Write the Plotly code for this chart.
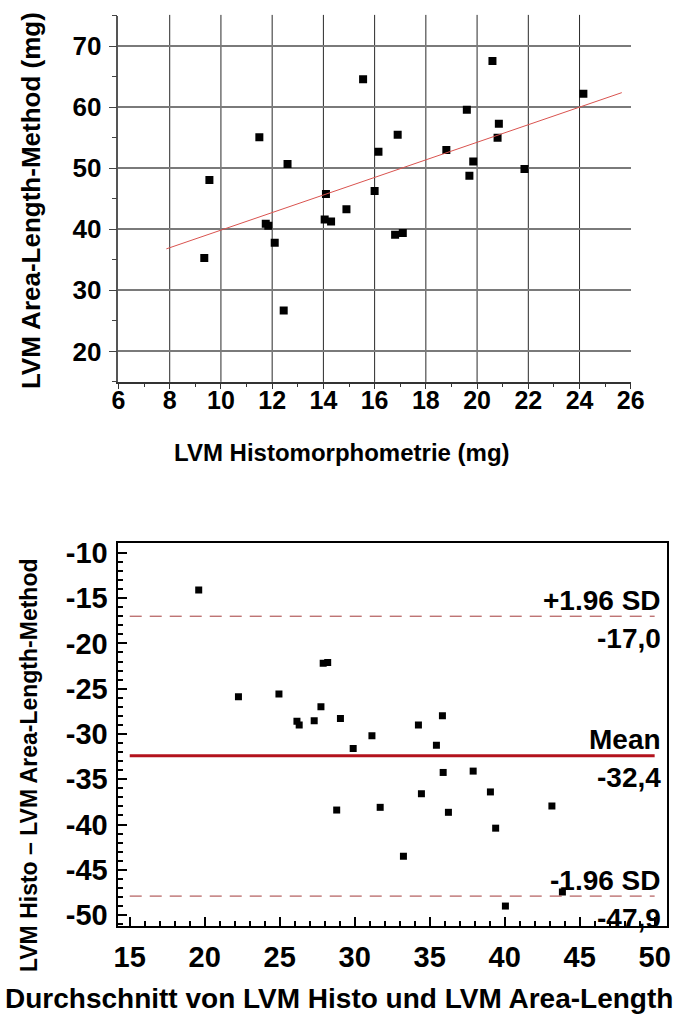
import plotly.graph_objects as go

# ---------------- data: top scatter (regression) ----------------
histo = [9.35, 9.55, 11.5, 11.75, 11.85, 12.1, 12.45, 12.6, 14.05, 14.1, 14.3, 14.9,
         15.55, 16.0, 16.15, 16.8, 16.9, 17.1, 18.8, 19.6, 19.7, 19.85, 20.6, 20.8,
         20.85, 21.85, 24.15]
area_length = [35.3, 48.1, 55.1, 40.9, 40.6, 37.8, 26.7, 50.7, 41.6, 45.8, 41.3, 43.3,
               64.6, 46.3, 52.7, 39.1, 55.5, 39.4, 53.0, 59.6, 48.8, 51.1, 67.6, 55.0,
               57.3, 49.9, 62.2]
fit_x = [7.87, 25.65]
fit_y = [36.8, 62.4]
top_xticks = [6, 8, 10, 12, 14, 16, 18, 20, 22, 24, 26]
top_xgrid = [8, 10, 12, 14, 16, 18, 20, 22, 24]
top_yticks = [20, 30, 40, 50, 60, 70]

# ---------------- data: bottom Bland-Altman ----------------
mean_vals = [19.6, 22.25, 24.95, 26.15, 26.3, 27.3, 27.75, 27.9, 28.2, 29.05, 28.8, 29.9,
             31.15, 31.7, 34.25, 35.85, 35.45, 35.9, 37.9, 34.45, 36.25, 39.05, 39.4,
             43.15, 33.25, 43.85, 40.05]
diff_vals = [-14.1, -25.9, -25.6, -28.6, -29.0, -28.55, -27.0, -22.2, -22.1, -28.3, -38.4,
             -31.6, -30.2, -38.1, -29.0, -28.0, -31.25, -34.25, -34.1, -36.6, -38.65,
             -36.4, -40.4, -37.95, -43.5, -47.45, -49.0]
bottom_xticks = [15, 20, 25, 30, 35, 40, 45, 50]
bottom_yticks = [-10, -15, -20, -25, -30, -35, -40, -45, -50]
bottom_yticktext = ["-10", "-15", "-20", "-25", "-30", "-35", "-40", "-45", "-50"]
limit_names = ["+1.96 SD", "Mean", "-1.96 SD"]
limit_vals = [-17.0, -32.4, -47.9]
line_span = [15, 50]

W, H = 685, 1021
FONT = "Liberation Sans, Arial, Helvetica, sans-serif"

fig = go.Figure()

# top scatter
fig.add_trace(go.Scatter(x=histo, y=area_length, mode="markers",
                         marker=dict(symbol="square", size=8, color="black"),
                         xaxis="x", yaxis="y", showlegend=False))
fig.add_trace(go.Scatter(x=fit_x, y=fit_y, mode="lines",
                         line=dict(color="#d9534f", width=1),
                         xaxis="x", yaxis="y", showlegend=False))

# bottom scatter
fig.add_trace(go.Scatter(x=mean_vals, y=diff_vals, mode="markers",
                         marker=dict(symbol="square", size=7, color="black"),
                         xaxis="x2", yaxis="y2", showlegend=False))

shapes = []
for gx in top_xgrid:
    shapes.append(dict(type="line", xref="x", yref="paper", x0=gx, x1=gx,
                       y0=1 - 380 / H, y1=1 - 9 / H, line=dict(color="#2a2a2a", width=1),
                       layer="below"))
for name, val in zip(limit_names, limit_vals):
    if name == "Mean":
        ln = dict(color="#b3121c", width=3)
    else:
        ln = dict(color="#a33a3a", width=1, dash="12px,8px")
    shapes.append(dict(type="line", xref="x2", yref="y2", x0=line_span[0], x1=line_span[1],
                       y0=val, y1=val, line=ln))

annotations = []
for name, val in zip(limit_names, limit_vals):
    annotations.append(dict(xref="x2", yref="y2", x=50, y=val, text="<b>%s</b>" % name,
                            xanchor="right", yanchor="middle", yshift=16, xshift=8,
                            showarrow=False,
                            font=dict(family=FONT, size=28, color="black")))
    annotations.append(dict(xref="x2", yref="y2", x=50, y=val,
                            text="<b>%s</b>" % ("%.1f" % val).replace(".", ","),
                            xanchor="right", yanchor="middle", yshift=-22, xshift=8,
                            showarrow=False,
                            font=dict(family=FONT, size=28, color="black")))

# axis titles
annotations.append(dict(xref="paper", yref="paper", x=346 / W, y=1 - 451 / H,
                        text="<b>LVM Histomorphometrie (mg)</b>", showarrow=False,
                        xanchor="center", yanchor="middle",
                        font=dict(family=FONT, size=24, color="black")))
annotations.append(dict(xref="paper", yref="paper", x=25 / W, y=1 - 197 / H,
                        text="<b>LVM Area-Length-Method (mg)</b>", showarrow=False,
                        textangle=-90, xanchor="center", yanchor="middle",
                        font=dict(family=FONT, size=26, color="black")))
annotations.append(dict(xref="paper", yref="paper", x=22 / W, y=1 - 767 / H,
                        text="<b>LVM Histo – LVM Area-Length-Method</b>", showarrow=False,
                        textangle=-90, xanchor="center", yanchor="middle",
                        font=dict(family=FONT, size=23, color="black")))
annotations.append(dict(xref="paper", yref="paper", x=342.5 / W, y=1 - 1003 / H,
                        text="<b>Durchschnitt von LVM Histo und LVM Area-Length</b>",
                        showarrow=False, xanchor="center", yanchor="middle",
                        font=dict(family=FONT, size=28, color="black")))

fig.update_layout(
    width=W, height=H, margin=dict(l=0, r=0, t=0, b=0),
    paper_bgcolor="white", plot_bgcolor="white", showlegend=False,
    shapes=shapes, annotations=annotations,
    xaxis=dict(domain=[115 / W, 643.5 / W], range=[6, 26], anchor="y",
               tickvals=top_xticks, ticks="outside", ticklen=5, tickwidth=1, tickcolor="#333",
               minor=dict(dtick=1, tick0=6, ticks="outside", ticklen=3, tickcolor="#333", showgrid=False),
               showgrid=False, zeroline=False, showline=True, linecolor="#333", linewidth=1.5,
               ticklabelstandoff=-10,
               tickfont=dict(family=FONT, size=25, color="black", weight="bold")),
    yaxis=dict(domain=[1 - 380 / H, 1 - 9.85 / H], range=[15, 75], anchor="x",
               tickvals=top_yticks, ticks="outside", ticklen=8, tickwidth=1, tickcolor="#444",
               minor=dict(dtick=5, tick0=15, ticks="outside", ticklen=5, tickcolor="#444", showgrid=False),
               showgrid=True, gridcolor="#7a7a7a", gridwidth=1.5,
               zeroline=False, showline=True, linecolor="#555", linewidth=1.5,
               ticklabelstandoff=2,
               tickfont=dict(family=FONT, size=26, color="black", weight="bold")),
    xaxis2=dict(domain=[115 / W, 680.5 / W], range=[14.25, 50.8], anchor="y2",
                tickvals=bottom_xticks, ticks="inside", ticklen=9, tickwidth=1.5, tickcolor="black",
                minor=dict(dtick=1, tick0=15, ticks="inside", ticklen=5, tickcolor="black", showgrid=False),
                showgrid=False, zeroline=False, showline=True, mirror=True,
                linecolor="black", linewidth=2, ticklabelstandoff=4,
                tickfont=dict(family=FONT, size=29, color="black", weight="bold")),
    yaxis2=dict(domain=[1 - 930 / H, 1 - 542.7 / H], range=[-51.2, -8.9], anchor="x2",
                tickvals=bottom_yticks, ticktext=bottom_yticktext,
                ticks="inside", ticklen=9, tickwidth=1.5, tickcolor="black",
                minor=dict(dtick=1, tick0=-50, ticks="inside", ticklen=5, tickcolor="black", showgrid=False),
                showgrid=False, zeroline=False, showline=True, mirror=True,
                linecolor="black", linewidth=2, ticklabelstandoff=3,
                tickfont=dict(family=FONT, size=29, color="black", weight="bold")),
)

fig.write_html("out.html")
